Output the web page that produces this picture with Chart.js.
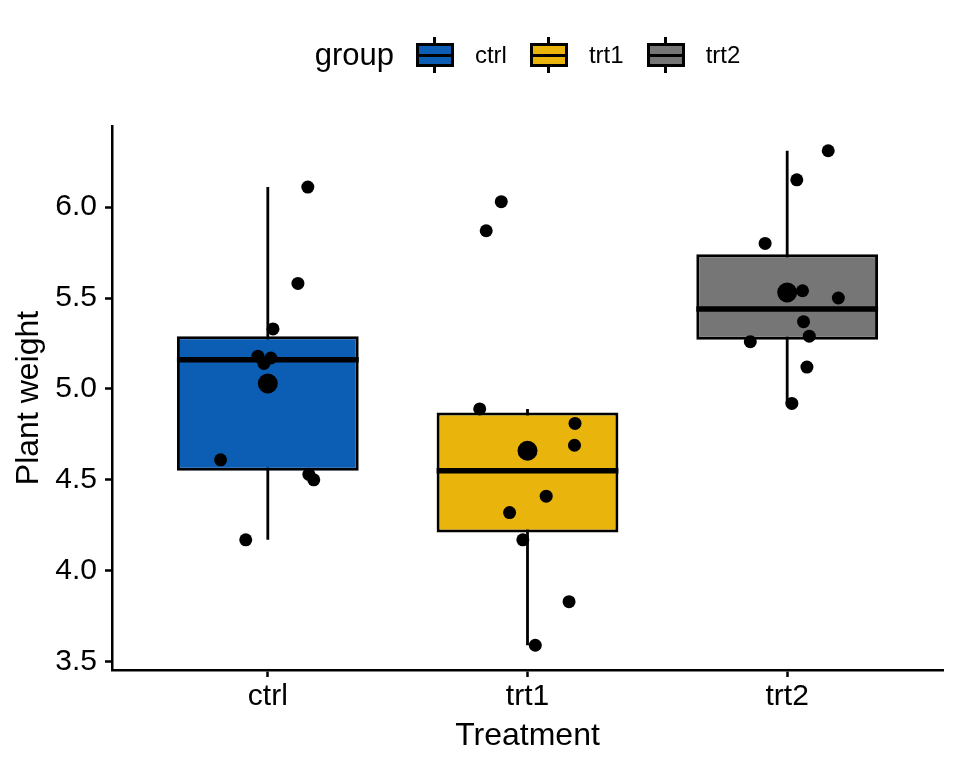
<!DOCTYPE html>
<html>
<head>
<meta charset="utf-8">
<script src="https://cdn.jsdelivr.net/npm/chart.js@4/dist/chart.umd.min.js"></script>
<style>
  body { margin: 0; background: #fff; }
  #wrap { position: relative; width: 960px; height: 768px; font-family: "Liberation Sans", Arial, sans-serif; color: #000; }
  #legend { position: absolute; left: 112px; width: 831px; top: 37px; height: 36px; display: flex; justify-content: center; align-items: center; }
  #legend .title { font-size: 31px; margin-right: 22px; }
  #legend .key { position: relative; width: 38px; height: 36px; margin-right: 21px; }
  #legend .wh { position: absolute; left: 17.5px; top: 0; width: 3px; height: 36px; background: #000; }
  #legend .bx { position: absolute; left: 0; top: 6px; width: 38px; height: 24px; box-sizing: border-box; border: 3px solid #000; }
  #legend .md { position: absolute; left: 0; top: 16.5px; width: 38px; height: 3px; background: #000; }
  #legend .lab { font-size: 24px; margin-right: 23px; }
  #legend .lab:last-child { margin-right: 0; }
</style>
</head>
<body>
<div id="wrap">
  <canvas id="chart" width="960" height="768"></canvas>
  <div id="legend"></div>
</div>
<script>
const groups = ["ctrl", "trt1", "trt2"];
const groupColors = ["#0C5EB4", "#E9B50C", "#767676"];

// plant weights per group, with the horizontal jitter of each dot
const ctrlWeight = [4.17, 5.58, 5.18, 6.11, 4.50, 4.61, 5.17, 4.53, 5.33, 5.14];
const ctrlJitter = [-0.085, 0.116, -0.038, 0.154, 0.177, -0.182, 0.012, 0.158, 0.020, -0.015];
const trt1Weight = [4.81, 4.17, 4.41, 3.59, 5.87, 3.83, 6.03, 4.89, 4.32, 4.69];
const trt1Jitter = [0.183, -0.018, 0.072, 0.030, -0.159, 0.160, -0.101, -0.184, -0.069, 0.181];
const trt2Weight = [6.31, 5.12, 5.54, 5.50, 5.37, 5.29, 4.92, 6.15, 5.80, 5.26];
const trt2Jitter = [0.158, 0.076, 0.059, 0.197, 0.063, 0.085, 0.018, 0.037, -0.085, -0.142];

// box summary per group
const boxLow = [4.55, 4.21, 5.27];
const boxHigh = [5.29, 4.87, 5.74];
const medians = [5.16, 4.55, 5.44];
const whiskerLow = [4.17, 3.59, 4.92];
const whiskerHigh = [6.11, 4.89, 6.31];
const means = [5.03, 4.66, 5.53];

const yTicks = [3.5, 4.0, 4.5, 5.0, 5.5, 6.0];

const weights = [ctrlWeight, trt1Weight, trt2Weight];
const jitters = [ctrlJitter, trt1Jitter, trt2Jitter];
const halfBox = 0.35;

const pointData = [];
weights.forEach((w, g) => w.forEach((v, i) => pointData.push({ x: g + 1 + jitters[g][i], y: v })));

const boxData = groups.map((g, i) => ({ x: i + 1, y: [boxLow[i], boxHigh[i]] }));
const whiskerData = [];
const medianData = [];
groups.forEach((g, i) => {
  whiskerData.push({ x: i + 1, y: whiskerLow[i] }, { x: i + 1, y: whiskerHigh[i] }, { x: i + 1, y: null });
  medianData.push({ x: i + 1 - halfBox, y: medians[i] }, { x: i + 1 + halfBox, y: medians[i] }, { x: i + 1, y: null });
});
const meanData = groups.map((g, i) => ({ x: i + 1, y: means[i] }));

// legend
const legend = document.getElementById("legend");
legend.innerHTML = '<span class="title">group</span>' + groups.map((g, i) =>
  '<span class="key"><span class="wh"></span><span class="bx" style="background:' + groupColors[i] +
  '"></span><span class="md"></span></span><span class="lab">' + g + '</span>').join("");

const font = "'Liberation Sans', Arial, sans-serif";
const ctx = document.getElementById("chart").getContext("2d");

new Chart(ctx, {
  type: "scatter",
  data: {
    datasets: [
      {
        label: "points",
        data: pointData,
        backgroundColor: "#000",
        borderWidth: 0,
        pointRadius: 6.5,
        pointHoverRadius: 6.5,
        order: 0,
      },
      {
        label: "means",
        data: meanData,
        backgroundColor: "#000",
        borderWidth: 0,
        pointRadius: 10,
        pointHoverRadius: 10,
        order: 1,
      },
      {
        type: "line",
        label: "median",
        data: medianData,
        borderColor: "#000",
        borderWidth: 5.5,
        borderCapStyle: "butt",
        pointRadius: 0,
        fill: false,
        spanGaps: false,
        order: 2,
      },
      {
        type: "bar",
        label: "box",
        data: boxData,
        backgroundColor: groupColors,
        borderColor: "#000",
        borderWidth: 3,
        borderSkipped: false,
        categoryPercentage: 0.7,
        barPercentage: 1.0,
        order: 3,
      },
      {
        type: "line",
        label: "whisker",
        data: whiskerData,
        borderColor: "#000",
        borderWidth: 2.8,
        pointRadius: 0,
        fill: false,
        spanGaps: false,
        order: 4,
      },
    ],
  },
  options: {
    responsive: false,
    animation: false,
    layout: { padding: { top: 126, right: 17, bottom: 0, left: 0 } },
    plugins: { legend: { display: false }, tooltip: { enabled: false } },
    scales: {
      x: {
        type: "linear",
        min: 0.4,
        max: 3.6,
        offset: false,
        afterFit: (s) => { s.height = 98; },
        afterBuildTicks: (s) => { s.ticks = groups.map((g, i) => ({ value: i + 1 })); },
        grid: { display: true, drawOnChartArea: false, offset: false, color: "#000", tickLength: 7, tickWidth: 2.5 },
        border: { display: true, color: "#000", width: 2.5 },
        ticks: {
          autoSkip: false,
          maxRotation: 0,
          padding: 2,
          color: "#000",
          font: { family: font, size: 30 },
          callback: (v) => groups[Math.round(v) - 1],
        },
        title: {
          display: true,
          text: "Treatment",
          color: "#000",
          font: { family: font, size: 32 },
          padding: { top: 0, bottom: 13 },
        },
      },
      y: {
        type: "linear",
        min: 3.454,
        max: 6.446,
        beginAtZero: false,
        afterFit: (s) => { s.width = 112; },
        afterBuildTicks: (s) => { s.ticks = yTicks.map((v) => ({ value: v })); },
        grid: { display: true, drawOnChartArea: false, color: "#000", tickLength: 7, tickWidth: 2.5 },
        border: { display: true, color: "#000", width: 2.5 },
        ticks: {
          padding: 8,
          color: "#000",
          font: { family: font, size: 30 },
          callback: (v) => v.toFixed(1),
        },
        title: {
          display: true,
          text: "Plant weight",
          color: "#000",
          font: { family: font, size: 32 },
          padding: { top: 10, bottom: 0 },
        },
      },
    },
  },
});
</script>
</body>
</html>
